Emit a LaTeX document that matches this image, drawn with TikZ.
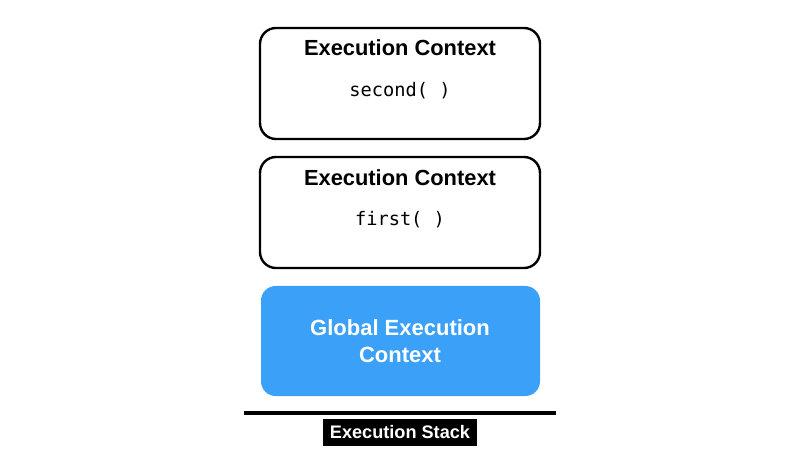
\documentclass[tikz,border=0pt]{standalone}
\usepackage{fontspec}
\setmainfont{Liberation Sans}
\newfontfamily\monofont{DejaVu Sans Mono}
\begin{document}
\begin{tikzpicture}[x=0.75pt,y=-0.75pt,
  ecbox/.style={draw=black,line width=1.8pt,rounded corners=12pt,fill=white},
  title/.style={font=\bfseries\fontsize{16.4}{19}\selectfont},
  code/.style={font=\monofont\fontsize{14}{16}\selectfont},
  gbox/.style={fill=blueg,rounded corners=11pt,draw=none},
  gtext/.style={font=\bfseries\fontsize{16.5}{20}\selectfont,text=white,align=center},
  stacklabel/.style={fill=black,text=white,font=\bfseries\fontsize{13.6}{15}\selectfont,minimum width=115pt,minimum height=20pt,inner sep=0pt}]
\definecolor{blueg}{RGB}{59,161,248}
\useasboundingbox (0,0) rectangle (800,463);
\draw[ecbox] (260,28) rectangle (540,139);
\node[title] (t1) at (400,48) {Execution Context};
\node[code] (c1) at (400,91) {second(\ )};
\draw[ecbox] (260,157) rectangle (540,268);
\node[title] (t2) at (400,178) {Execution Context};
\node[code] (c2) at (400,220) {first(\ )};
\fill[gbox] (261,286) rectangle (540,396);
\node[gtext] (g) at (400,341) {Global Execution\\Context};
\draw[line width=2.4pt] (244,413) -- (556,413);
\node[stacklabel] (s) at (400,432.5) {Execution Stack};
\end{tikzpicture}
\end{document}
